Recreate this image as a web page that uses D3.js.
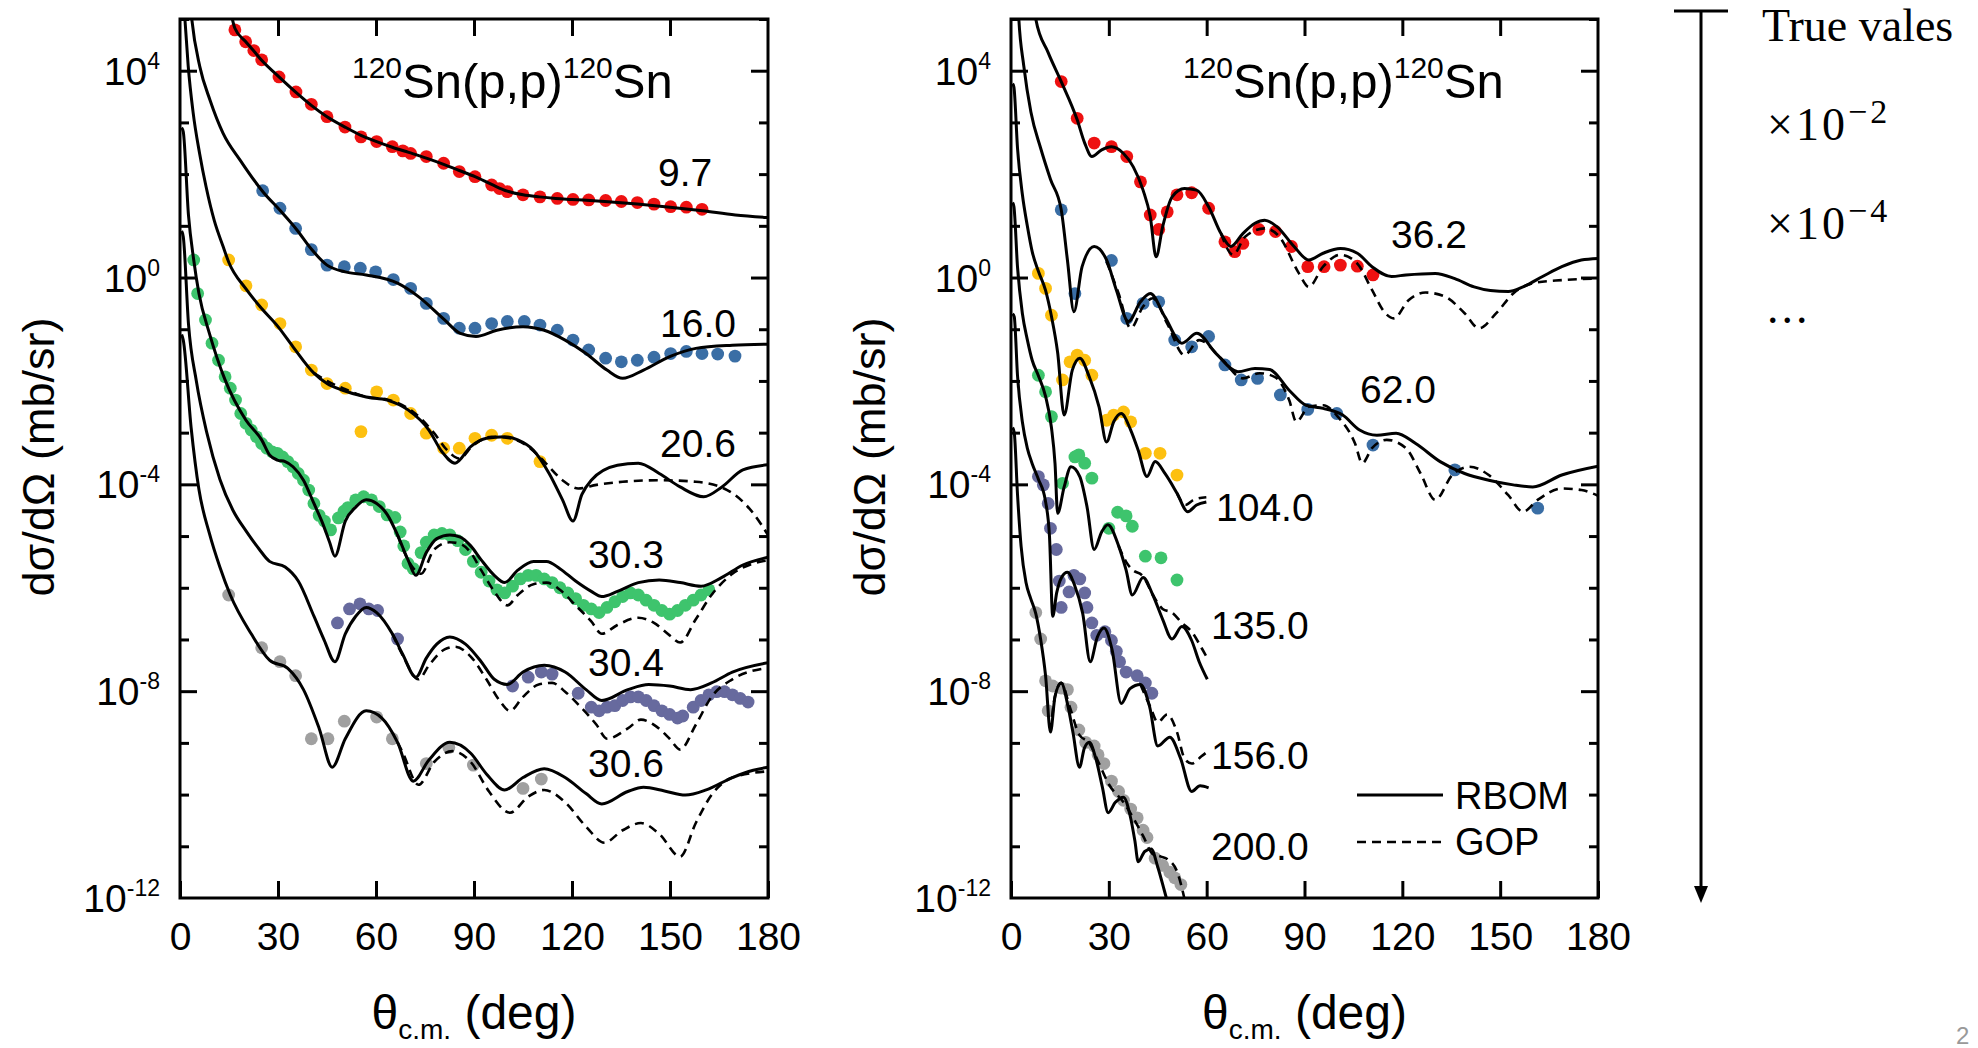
<!DOCTYPE html>
<html>
<head>
<meta charset="utf-8">
<script src="https://cdn.jsdelivr.net/npm/d3@7"></script>
<style>
  body { margin: 0; background: #fff; }
  svg { display: block; }
</style>
</head>
<body>
<svg id="chart" width="1978" height="1048"></svg>
<script>
// all cross sections below are stored as log10(dsigma/dOmega in mb/sr)
// each pair is [theta_cm (deg), log10 value]

const xTickValues = [0, 30, 60, 90, 120, 150, 180];
const yMajorTicks = [1e4, 1, 1e-4, 1e-8];
const yMinorTicks = [1e5, 1e3, 1e2, 1e1, 1e-1, 1e-2, 1e-3, 1e-5, 1e-6, 1e-7, 1e-9, 1e-10, 1e-11];
const yTickExponents = ["4", "0", "-4", "-8", "-12"];
const yLabelTicks = [1e4, 1, 1e-4, 1e-8, 1e-12];

const leftEnergies = ["9.7", "16.0", "20.6", "30.3", "30.4", "30.6"];
const rightEnergies = ["36.2", "62.0", "104.0", "135.0", "156.0", "200.0"];
const multipliers = ["True vales", "×10", "×10", "..."];

// ---------- left panel ----------
const rbom97 = [[15.5,5.15],[16.8,4.82],[20,4.57],[22.6,4.38],[25,4.2],[30.3,3.88],[35.5,3.58],[40.2,3.33],[45,3.11],[50.5,2.91],[55.4,2.75],[60.2,2.63],[65,2.52],[70,2.42],[75.4,2.31],[80.7,2.19],[85.5,2.07],[90.3,1.95],[95.4,1.8],[100.2,1.67],[105,1.6],[110,1.56],[115,1.53],[120,1.51],[130,1.47],[140,1.42],[150,1.36],[160,1.29],[170,1.21],[180,1.16]];
const pts97 = [[16.8,4.79],[20.1,4.56],[22.6,4.39],[25,4.21],[30.3,3.88],[35.5,3.59],[40.2,3.35],[45,3.11],[50.5,2.91],[55.4,2.72],[60.2,2.63],[65,2.53],[68.2,2.45],[70.6,2.4],[75.4,2.34],[80.7,2.21],[85.5,2.05],[90.3,1.95],[95.4,1.79],[97.8,1.72],[100.2,1.66],[105,1.6],[110.2,1.56],[115.5,1.53],[120.3,1.51],[125.1,1.5],[130.3,1.49],[135.1,1.47],[140,1.45],[145.1,1.42],[150.2,1.37],[155,1.36],[159.8,1.32]];

const rbom160 = [[3,5.4],[3.6,5.0],[6.1,4.07],[9.2,3.43],[13.2,2.79],[18.4,2.27],[25.5,1.65],[30.6,1.3],[35.8,0.92],[40.2,0.55],[45,0.24],[50.6,0.11],[57,0.05],[66.6,-0.11],[73,-0.37],[81,-0.82],[85.8,-1.08],[90.6,-1.14],[97,-1.02],[105,-0.95],[111.5,-1.02],[117.9,-1.21],[124.3,-1.47],[130.7,-1.79],[135.5,-1.95],[141.9,-1.79],[149.9,-1.53],[157.9,-1.37],[169.1,-1.31],[180,-1.29]];
const pts160 = [[25.3,1.68],[30.6,1.34],[35.4,0.95],[40.2,0.54],[45,0.24],[50.3,0.21],[55.2,0.18],[59.9,0.11],[65.3,-0.04],[70.6,-0.21],[75.4,-0.5],[80.7,-0.79],[85.5,-0.98],[90.3,-0.98],[95.4,-0.89],[100.2,-0.85],[105.4,-0.85],[110.2,-0.92],[115.5,-1.02],[120.3,-1.21],[125.1,-1.4],[130.3,-1.56],[135.1,-1.63],[140,-1.6],[145.1,-1.54],[150.2,-1.47],[155,-1.43],[159.8,-1.47],[164.6,-1.48],[169.9,-1.52]];

const rbom206 = [[0.9,5.6],[1.5,5.0],[2.5,4.1],[4,3.2],[6,2.4],[8,1.75],[10.5,1.1],[13.2,0.6],[14.9,0.3],[20.2,-0.22],[25,-0.6],[30,-0.95],[34.6,-1.34],[41,-1.85],[45,-2.05],[49.8,-2.18],[57,-2.31],[63.4,-2.37],[69.8,-2.56],[76.2,-2.95],[80.2,-3.37],[84.2,-3.59],[89,-3.27],[93.8,-3.11],[99.4,-3.08],[103.4,-3.14],[108.2,-3.34],[113,-3.79],[117.1,-4.3],[120.3,-4.71],[123,-4.2],[125.9,-3.92],[133.9,-3.63],[140.3,-3.59],[146.7,-3.79],[153.1,-4.05],[160.3,-4.24],[165.9,-4.05],[172.3,-3.72],[180,-3.62]];
const gop206 = [[41,-1.85],[45,-2.0],[49.8,-2.14],[57,-2.31],[63.4,-2.36],[71.4,-2.6],[77.8,-3.01],[81.8,-3.34],[85.5,-3.5],[89.8,-3.24],[95.4,-3.08],[101,-3.11],[106.6,-3.27],[111.5,-3.56],[117.1,-3.92],[121.9,-4.08],[127.5,-4.01],[135.5,-3.95],[146.7,-3.92],[157.9,-3.95],[167.5,-4.11],[175.5,-4.56],[180,-4.98]];
const pts206 = [[14.9,0.34],[20.2,-0.16],[25,-0.53],[30.6,-0.89],[35.4,-1.34],[40.2,-1.79],[45,-2.05],[50.6,-2.14],[55.4,-2.98],[60.2,-2.21],[65.3,-2.37],[70.6,-2.63],[75.4,-3.01],[80.7,-3.3],[85.5,-3.3],[90.3,-3.11],[95.4,-3.05],[100.2,-3.11],[110.2,-3.56]];

const rbom303 = [[0.5,2.9],[1,2.82],[2.6,1.2],[4.2,0.34],[5.8,-0.31],[9,-1.08],[13.8,-1.98],[20.2,-2.76],[25,-3.14],[27.4,-3.43],[29.8,-3.53],[32.2,-3.56],[34.6,-3.66],[37.8,-3.92],[41,-4.37],[43.4,-4.71],[45.8,-5.12],[47.4,-5.39],[50.6,-4.71],[53.8,-4.44],[57,-4.3],[60.2,-4.37],[63.4,-4.58],[66.6,-4.98],[69.8,-5.46],[72.2,-5.76],[75.4,-5.32],[78.6,-5.05],[82.6,-4.98],[85.8,-5.02],[89,-5.19],[92.2,-5.46],[96.2,-5.76],[99.4,-5.9],[103.4,-5.66],[108.2,-5.49],[112.2,-5.49],[116.3,-5.63],[121.1,-5.87],[125.9,-6.07],[129.1,-6.17],[133.9,-6.07],[140.3,-5.9],[146.7,-5.85],[153.1,-5.9],[159.5,-5.97],[165.9,-5.8],[172.3,-5.56],[180,-5.41]];
const gop303 = [[66.6,-4.98],[69.8,-5.46],[73.8,-5.73],[77.8,-5.26],[82.6,-5.12],[85.8,-5.15],[89,-5.32],[92.2,-5.66],[96.2,-6.07],[100.2,-6.34],[103.4,-6.14],[108.2,-5.93],[112.2,-5.9],[116.3,-6.04],[121.1,-6.34],[125.9,-6.65],[129.1,-6.89],[133.9,-6.72],[140.3,-6.58],[145.1,-6.68],[149.9,-6.92],[153.1,-7.06],[157.9,-6.61],[162.7,-6.14],[169.1,-5.73],[175.5,-5.53],[180,-5.47]];
const pts303 = [[4.2,0.34],[5.4,-0.31],[7.8,-0.82],[9.8,-1.27],[11.8,-1.6],[13.8,-1.92],[15.4,-2.14],[17,-2.37],[18.6,-2.63],[20.2,-2.82],[21.8,-2.95],[23.4,-3.08],[25,-3.21],[26.6,-3.3],[28.2,-3.37],[29.8,-3.4],[31.4,-3.47],[33,-3.56],[34.6,-3.66],[36.2,-3.79],[37.8,-3.92],[39.4,-4.11],[41,-4.37],[42.6,-4.6],[44.2,-4.71],[46.1,-4.88],[48.5,-4.65],[50.2,-4.52],[51.4,-4.45],[53.8,-4.3],[56.2,-4.24],[58.6,-4.3],[61,-4.43],[63.4,-4.59],[65.8,-4.64],[67.4,-4.92],[68.5,-5.19],[69.8,-5.53],[71.4,-5.63],[73.8,-5.32],[75.4,-5.12],[77.8,-4.98],[80.2,-4.95],[82.6,-4.98],[85,-5.09],[87.4,-5.26],[89.8,-5.49],[92.2,-5.7],[94.6,-5.87],[97,-6.04],[99.4,-6.1],[101.8,-5.97],[104.2,-5.83],[106.6,-5.76],[109,-5.76],[111.5,-5.83],[113.9,-5.9],[116.3,-6],[118.7,-6.1],[121.1,-6.21],[123.5,-6.34],[125.9,-6.41],[128.3,-6.48],[130.7,-6.38],[133.1,-6.27],[135.5,-6.17],[137.9,-6.1],[140.3,-6.14],[142.7,-6.24],[145.1,-6.34],[147.5,-6.44],[149.9,-6.51],[152.3,-6.44],[154.7,-6.34],[157.1,-6.24],[159.5,-6.14],[161.9,-6.04]];

const rbom304 = [[0.5,0.9],[1,0.79],[2.6,-0.9],[5,-2.0],[8.2,-3.0],[12.2,-3.9],[16.2,-4.5],[20.2,-4.9],[24.2,-5.25],[27.4,-5.49],[32.2,-5.6],[36.2,-5.87],[41,-6.55],[44.2,-7.02],[47.4,-7.43],[50.6,-6.89],[53.8,-6.55],[57,-6.38],[60.2,-6.48],[65,-6.89],[68.2,-7.29],[72.2,-7.73],[75.4,-7.36],[78.6,-7.09],[82.6,-6.95],[87.4,-7.09],[92.2,-7.43],[96.2,-7.77],[100.2,-7.87],[105,-7.63],[111.5,-7.5],[117.9,-7.63],[124.3,-7.97],[129.1,-8.18],[137.1,-7.97],[143.5,-7.87],[149.9,-7.9],[156.3,-7.97],[162.7,-7.84],[169.1,-7.63],[180,-7.45]];
const gop304 = [[65,-6.89],[68.2,-7.31],[73,-7.77],[76.2,-7.5],[81,-7.19],[84.2,-7.14],[89,-7.33],[93.8,-7.77],[97.8,-8.18],[101,-8.38],[105,-8.11],[109.8,-7.87],[113.9,-7.84],[117.9,-8.01],[122.7,-8.31],[127.5,-8.65],[130.7,-8.92],[137.1,-8.72],[141.1,-8.55],[145.1,-8.65],[149.9,-8.92],[153.1,-9.13],[157.9,-8.65],[162.7,-8.11],[169.1,-7.77],[180,-7.55]];
const pts304 = [[48.2,-6.68],[51.9,-6.41],[55.1,-6.31],[57.8,-6.41],[60.5,-6.44],[66.6,-6.99],[101.8,-7.9],[106.6,-7.73],[110.6,-7.63],[113.9,-7.67],[121.9,-8.04],[125.9,-8.31],[128.3,-8.38],[130.7,-8.31],[133.1,-8.28],[135.5,-8.18],[137.9,-8.11],[140.3,-8.11],[142.7,-8.18],[145.1,-8.28],[147.5,-8.38],[149.9,-8.45],[152.3,-8.52],[153.9,-8.48],[157.1,-8.31],[159.5,-8.18],[161.9,-8.07],[164.3,-8.01],[166.7,-8.01],[169.1,-8.07],[171.5,-8.14],[173.9,-8.21]];

const rbom306 = [[0.5,-1.1],[1,-1.21],[3.4,-2.9],[5.8,-4.1],[9,-4.95],[12.2,-5.6],[15.4,-6.14],[21.8,-6.89],[27.4,-7.4],[33,-7.56],[37.8,-7.97],[42.6,-8.72],[46.6,-9.47],[50.6,-8.92],[57,-8.38],[61.8,-8.52],[66.6,-8.99],[71.4,-9.74],[76.2,-9.33],[82.6,-8.99],[89,-9.2],[93.8,-9.6],[99.4,-9.91],[105,-9.67],[111.5,-9.5],[117.9,-9.67],[124.3,-9.98],[129.1,-10.18],[137.1,-9.94],[141.9,-9.86],[148.3,-9.93],[154.7,-10.01],[161.1,-9.91],[169.1,-9.67],[175.5,-9.53],[180,-9.47]];
const gop306 = [[66.6,-8.99],[68.2,-9.19],[73,-9.81],[77.8,-9.37],[83.4,-9.16],[89,-9.37],[94.6,-9.94],[101,-10.35],[106.6,-10.04],[111.5,-9.91],[117.9,-10.15],[124.3,-10.62],[129.9,-10.93],[135.5,-10.69],[141.1,-10.55],[146.7,-10.76],[153.1,-11.2],[157.9,-10.55],[162.7,-10.01],[169.1,-9.67],[180,-9.55]];
const pts306 = [[14.9,-6.14],[25,-7.16],[30.6,-7.43],[35.4,-7.7],[40.2,-8.92],[45.3,-8.92],[50.3,-8.58],[60.2,-8.5],[65,-8.92],[75.4,-9.4],[82.3,-9.09],[89.8,-9.43],[105,-9.88],[110.6,-9.7]];

// ---------- right panel ----------
const rbom362 = [[7,5.3],[7.6,5.0],[11.4,4.35],[15.4,3.79],[20.3,3.05],[22.6,2.6],[24.8,2.34],[27.8,2.47],[30.8,2.53],[34.5,2.4],[37.5,2.14],[40.5,1.69],[42.7,1.18],[44.5,0.4],[46.5,0.98],[49.4,1.56],[53.2,1.72],[56.9,1.69],[60.6,1.37],[64.4,0.85],[67.4,0.6],[71.1,0.85],[74.8,1.05],[77.8,1.11],[81.6,0.98],[86.8,0.6],[91.3,0.34],[95.7,0.47],[101,0.56],[106.2,0.47],[110.7,0.21],[116.7,0.02],[121.1,0.05],[130.1,0.08],[136.1,-0.02],[142,-0.18],[147,-0.25],[152.5,-0.27],[157,-0.18],[163,0.02],[168.9,0.21],[174.9,0.34],[180,0.37]];
const gop362 = [[64.4,0.85],[68.1,0.44],[71.8,0.79],[77.8,0.95],[82.3,0.79],[88.3,0.08],[91.3,-0.18],[95.7,0.21],[101,0.44],[106.2,0.27],[110.7,-0.24],[114.4,-0.66],[117.4,-0.79],[121.9,-0.44],[127.1,-0.29],[133.1,-0.37],[139.1,-0.69],[143.5,-0.98],[148.8,-0.69],[154,-0.31],[160,-0.11],[168.9,-0.05],[180,-0.02]];
const pts362 = [[15.4,3.79],[20.3,3.08],[25.5,2.6],[30.8,2.53],[35.5,2.34],[39.7,1.85],[42.7,1.21],[45.3,0.93],[47.9,1.27],[50.9,1.6],[55.4,1.64],[60.6,1.34],[65.6,0.69],[68.6,0.5],[71.1,0.66],[76,0.93],[81.1,0.89],[86,0.6],[91,0.21],[96,0.21],[101,0.24],[106.2,0.22],[111,0.05]];

const rbom620 = [[2,5.5],[2.4,5.0],[3.9,4.1],[6.1,3.2],[9.1,2.5],[12.1,1.9],[15.4,1.31],[17.3,0.34],[19.3,-0.66],[21.8,0.21],[25.5,0.6],[29.3,0.34],[32.3,-0.24],[36,-0.85],[39.7,-0.47],[42.7,-0.31],[47.2,-0.76],[52.4,-1.27],[57,-1.08],[62.9,-1.47],[69.6,-1.82],[74.8,-1.76],[79.3,-1.78],[85.3,-2.18],[90.5,-2.47],[95.7,-2.53],[101.7,-2.66],[106.9,-2.95],[112.2,-3.05],[118.1,-3.01],[124.1,-3.21],[131.6,-3.56],[139.1,-3.79],[146.5,-3.92],[154,-4.01],[160,-4.05],[168.9,-3.82],[180,-3.65]];
const gop620 = [[29.3,0.31],[33,-0.31],[36.7,-0.98],[40.5,-0.56],[43.5,-0.4],[47.9,-0.89],[53.2,-1.5],[57.7,-1.21],[64.4,-1.56],[71.1,-1.95],[76.3,-1.85],[80.8,-1.92],[85.3,-2.37],[87.5,-2.79],[91.3,-2.5],[95.7,-2.47],[100.2,-2.69],[105.5,-3.21],[107.7,-3.59],[110.7,-3.3],[115.2,-3.14],[121.1,-3.3],[125.6,-3.79],[130.1,-4.3],[135.3,-3.82],[140.6,-3.66],[146.5,-3.82],[152.5,-4.21],[157,-4.53],[161.5,-4.3],[168.9,-4.08],[174.9,-4.11],[180,-4.22]];
const pts620 = [[15.4,1.31],[19.6,-0.31],[30.8,0.33],[35.5,-0.79],[40.5,-0.5],[45.3,-0.47],[50.2,-1.21],[55.4,-1.34],[60.6,-1.14],[65.6,-1.69],[70.6,-1.98],[75.6,-1.95],[82.6,-2.27],[91,-2.55],[99.9,-2.63],[111,-3.24],[136.1,-3.72],[161.5,-4.46]];

const rbom1040 = [[0.5,3.75],[0.9,3.68],[2,2.5],[3.5,1.6],[5,1.0],[6.5,0.5],[8.4,0.12],[10.6,-0.25],[12.4,-0.75],[14.3,-1.45],[16.3,-2.66],[18.8,-1.79],[21.1,-1.56],[24,-1.92],[27,-2.5],[29.3,-3.18],[31.5,-2.79],[33.8,-2.63],[36.7,-2.95],[39,-3.34],[41.7,-3.85],[44.2,-3.56],[47.2,-3.79],[50.9,-4.17],[54.2,-4.53],[56.9,-4.4],[59.9,-4.34]];
const gop1040 = [[50.9,-4.17],[53.5,-4.4],[56,-4.3],[59.9,-4.25]];
const pts1040 = [[8.4,0.08],[10.6,-0.21],[12.4,-0.73],[15.8,-1.98],[18.1,-1.63],[20.3,-1.5],[22.6,-1.6],[24.8,-1.89],[29.3,-2.76],[31.5,-2.66],[34.5,-2.6],[36.7,-2.79],[41.2,-3.4],[45.7,-3.4],[50.9,-3.82]];

const rbom1350 = [[0.5,1.45],[0.9,1.37],[2,0.2],[3.5,-0.7],[5,-1.2],[6.5,-1.6],[8.4,-1.9],[10.6,-2.3],[12.4,-2.9],[13.5,-3.6],[14.3,-4.56],[16.3,-4.05],[18.4,-3.66],[21.1,-3.85],[23.3,-4.43],[25.5,-5.26],[27.8,-4.92],[29.7,-4.78],[33,-5.19],[35.3,-5.66],[37.2,-6.14],[40.5,-5.8],[43.5,-6.14],[46.5,-6.61],[49.4,-6.99],[52.4,-6.75],[55.4,-7.02],[57.7,-7.43],[60.2,-7.77]];
const gop1350 = [[33,-5.19],[35.3,-5.5],[37.2,-5.65],[40.5,-5.78],[43.5,-6.14],[46.5,-6.41],[49.4,-6.48],[52.4,-6.68],[55.4,-6.85],[58.4,-7.16],[60.2,-7.36]];
const pts1350 = [[8.4,-1.89],[10.6,-2.21],[12.4,-2.69],[15.8,-3.98],[19.6,-3.47],[20.8,-3.43],[22.6,-3.59],[24.8,-3.88],[30,-4.85],[32.7,-4.54],[35.3,-4.61],[37.2,-4.81],[41.2,-5.39],[46,-5.42],[50.9,-5.85]];

const rbom1560 = [[0.5,-0.7],[1,-0.76],[2,-1.9],[3.5,-2.8],[5,-3.3],[6.5,-3.6],[8.4,-3.9],[10.5,-4.3],[11.8,-5.0],[12.8,-6.55],[14,-6.1],[15.5,-5.8],[17.3,-5.7],[19.5,-5.95],[22,-6.5],[24.3,-7.43],[26.5,-6.95],[28.5,-6.78],[31,-7.2],[33.8,-8.24],[36.5,-7.95],[39.7,-7.87],[42.5,-8.3],[45,-9.06],[48.7,-8.89],[52,-9.3],[55.4,-9.94],[58,-9.83],[60.6,-9.87]];
const gop1560 = [[39.7,-7.87],[42.7,-8.3],[45,-8.6],[47.9,-8.45],[50.9,-8.79],[53.2,-9.3],[55.4,-9.4],[58.4,-9.26],[60.6,-9.15]];
const pts1560 = [[8.4,-3.85],[9.9,-4.01],[11.4,-4.37],[12.1,-4.85],[13.9,-5.26],[14.8,-5.87],[15.4,-6.38],[17.8,-6.08],[19.3,-5.76],[21.1,-5.83],[22.6,-6.1],[23.3,-6.38],[24.8,-6.68],[26.3,-6.92],[28.8,-6.85],[30.8,-7.02],[32.3,-7.23],[33.3,-7.43],[35.3,-7.63],[38.7,-7.7],[41.2,-7.84],[43.2,-8.04]];

const rbom2000 = [[0.5,-2.9],[1,-3.0],[2,-4.2],[3.1,-5.2],[4.6,-5.9],[6,-6.2],[7.6,-6.5],[9.1,-7.0],[10.6,-7.7],[12.1,-8.79],[13.5,-8.1],[15.4,-7.84],[17.5,-8.3],[19,-8.8],[21,-9.47],[22.5,-9.1],[24,-8.99],[26,-9.3],[28,-9.85],[29.8,-10.35],[32,-10.15],[34.5,-10.05],[36.5,-10.4],[38,-10.9],[39,-11.3],[41,-11.1],[43,-11.05],[45,-11.4],[47,-11.85],[48.5,-12.2]];
const gop2000 = [[12.1,-8.79],[13.5,-8.1],[15.4,-7.84],[18,-8.3],[21,-8.85],[24,-9.0],[27,-9.4],[30,-9.8],[34.5,-10.15],[37.5,-10.45],[40.5,-10.8],[43.5,-11.15],[46,-11.2],[48,-11.25],[51,-11.5],[53.5,-12.1]];
const pts2000 = [[7.6,-6.48],[9.1,-6.99],[10.6,-7.8],[11.4,-8.38],[12.8,-7.9],[15.4,-7.94],[17.3,-7.97],[18.4,-8.31],[20.8,-8.75],[22.9,-8.99],[25.5,-9.06],[26.7,-9.23],[28.5,-9.4],[30.8,-9.74],[33,-9.94],[34.5,-10.11],[36.7,-10.28],[38.7,-10.45],[40.5,-10.69],[41.7,-10.83],[44.2,-11.23],[46.5,-11.37],[48.7,-11.5],[50.2,-11.61],[52.1,-11.74]];

const colors = {
  red: "#ee1111", blue: "#3a6ea5", yellow: "#fdc010",
  green: "#3ec46d", purple: "#676a9e", gray: "#a0a0a0"
};

const FONT = "Arial, 'Liberation Sans', sans-serif";
const SERIF = "'Liberation Serif', 'Times New Roman', serif";

const svg = d3.select("#chart");
const yTop = 19, yBottom = 898;

const y = d3.scaleLog().domain([1e-12, 1e5]).range([yBottom, yTop]);

/*one entry per panel; label positions are layout only*/
const panels = [
  {
    x0: 180, x1: 768,
    series: [
      { rbom: rbom97, gop: null, pts: pts97, color: colors.red, name: leftEnergies[0], lx: 658, ly: 186 },
      { rbom: rbom160, gop: null, pts: pts160, color: colors.blue, name: leftEnergies[1], lx: 660, ly: 337 },
      { rbom: rbom206, gop: gop206, pts: pts206, color: colors.yellow, name: leftEnergies[2], lx: 660, ly: 457 },
      { rbom: rbom303, gop: gop303, pts: pts303, color: colors.green, name: leftEnergies[3], lx: 588, ly: 568 },
      { rbom: rbom304, gop: gop304, pts: pts304, color: colors.purple, name: leftEnergies[4], lx: 588, ly: 676 },
      { rbom: rbom306, gop: gop306, pts: pts306, color: colors.gray, name: leftEnergies[5], lx: 588, ly: 777 }
    ]
  },
  {
    x0: 1011, x1: 1598,
    series: [
      { rbom: rbom362, gop: gop362, pts: pts362, color: colors.red, name: rightEnergies[0], lx: 1391, ly: 248 },
      { rbom: rbom620, gop: gop620, pts: pts620, color: colors.blue, name: rightEnergies[1], lx: 1360, ly: 403 },
      { rbom: rbom1040, gop: gop1040, pts: pts1040, color: colors.yellow, name: rightEnergies[2], lx: 1216, ly: 521 },
      { rbom: rbom1350, gop: gop1350, pts: pts1350, color: colors.green, name: rightEnergies[3], lx: 1211, ly: 639 },
      { rbom: rbom1560, gop: gop1560, pts: pts1560, color: colors.purple, name: rightEnergies[4], lx: 1211, ly: 769 },
      { rbom: rbom2000, gop: gop2000, pts: pts2000, color: colors.gray, name: rightEnergies[5], lx: 1211, ly: 860 }
    ],
    legend: true
  }
];

panels.forEach((p, pi) => {
  const x = d3.scaleLinear().domain([0, 180]).range([p.x0, p.x1]);
  const g = svg.append("g");

  svg.append("clipPath").attr("id", "clip" + pi)
    .append("rect")
    .attr("x", p.x0).attr("y", yTop)
    .attr("width", p.x1 - p.x0).attr("height", yBottom - yTop);

  const plot = g.append("g").attr("clip-path", `url(#clip${pi})`);

  const line = d3.line()
    .x(d => x(d[0]))
    .y(d => y(Math.pow(10, d[1])))
    .curve(d3.curveMonotoneX);

  /*data points go under the curves*/
  p.series.forEach(s => {
    plot.append("g")
      .selectAll("circle")
      .data(s.pts)
      .enter()
      .append("circle")
      .attr("cx", d => x(d[0]))
      .attr("cy", d => y(Math.pow(10, d[1])))
      .attr("r", 6.4)
      .attr("fill", s.color);
  });

  p.series.forEach(s => {
    if (s.gop) {
      plot.append("path")
        .datum(s.gop)
        .attr("d", line)
        .attr("fill", "none")
        .attr("stroke", "#000")
        .attr("stroke-width", 2.6)
        .attr("stroke-dasharray", "9,6");
    }
    plot.append("path")
      .datum(s.rbom)
      .attr("d", line)
      .attr("fill", "none")
      .attr("stroke", "#000")
      .attr("stroke-width", 3)
      .attr("stroke-linejoin", "round");
  });

  /*energy labels*/
  p.series.forEach(s => {
    g.append("text")
      .attr("x", s.lx).attr("y", s.ly)
      .attr("font-family", FONT).attr("font-size", 39)
      .text(s.name);
  });

  /*axes with inward ticks*/
  const styleAxis = sel => {
    sel.select(".domain").remove();
    sel.selectAll("line").attr("stroke", "#000").attr("stroke-width", 3);
    sel.attr("font-family", FONT).attr("font-size", 39);
    sel.selectAll("text").attr("fill", "#000");
  };

  g.append("g")
    .attr("transform", `translate(0,${yBottom})`)
    .call(d3.axisBottom(x).tickValues(xTickValues).tickSize(-17).tickPadding(24).tickFormat(d3.format("d")))
    .call(styleAxis);

  g.append("g")
    .attr("transform", `translate(0,${yTop})`)
    .call(d3.axisTop(x).tickValues(xTickValues.slice(1, -1)).tickSize(-17).tickFormat(""))
    .call(styleAxis);

  [[d3.axisLeft, p.x0], [d3.axisRight, p.x1]].forEach(([axis, pos]) => {
    g.append("g")
      .attr("transform", `translate(${pos},0)`)
      .call(axis(y).tickValues(yMajorTicks).tickSize(-17).tickFormat(""))
      .call(styleAxis);
    g.append("g")
      .attr("transform", `translate(${pos},0)`)
      .call(axis(y).tickValues(yMinorTicks).tickSize(-9).tickFormat(""))
      .call(styleAxis);
  });

  /*tick labels as 10 with a raised exponent*/
  yLabelTicks.forEach((v, i) => {
    const t = g.append("text")
      .attr("x", p.x0 - 20)
      .attr("y", y(v) + 14)
      .attr("text-anchor", "end")
      .attr("font-family", FONT)
      .attr("font-size", 39)
      .text("10");
    t.append("tspan").attr("dy", -16).attr("font-size", 23).text(yTickExponents[i]);
  });

  g.append("rect")
    .attr("x", p.x0).attr("y", yTop)
    .attr("width", p.x1 - p.x0).attr("height", yBottom - yTop)
    .attr("fill", "none").attr("stroke", "#000").attr("stroke-width", 3);

  /*reaction title*/
  const title = g.append("text")
    .attr("x", p.x0 + 172).attr("y", 98)
    .attr("font-family", FONT).attr("font-size", 49);
  title.append("tspan").attr("font-size", 30).attr("dy", -20).text("120");
  title.append("tspan").attr("dy", 20).text("Sn(p,p)");
  title.append("tspan").attr("font-size", 30).attr("dy", -20).text("120");
  title.append("tspan").attr("dy", 20).text("Sn");

  /*axis titles*/
  g.append("text")
    .attr("transform", `translate(${p.x0 - 126},457) rotate(-90)`)
    .attr("text-anchor", "middle")
    .attr("font-family", FONT).attr("font-size", 45)
    .text("dσ/dΩ (mb/sr)");

  const xl = g.append("text")
    .attr("x", (p.x0 + p.x1) / 2).attr("y", 1029)
    .attr("text-anchor", "middle")
    .attr("font-family", FONT).attr("font-size", 48);
  xl.append("tspan").text("θ");
  xl.append("tspan").attr("font-size", 28).attr("dy", 10).text("c.m.");
  xl.append("tspan").attr("dy", -10).text(" (deg)");

  if (p.legend) {
    const lg = g.append("g");
    lg.append("line").attr("x1", 1357).attr("x2", 1443).attr("y1", 795).attr("y2", 795)
      .attr("stroke", "#000").attr("stroke-width", 3);
    lg.append("line").attr("x1", 1357).attr("x2", 1443).attr("y1", 842).attr("y2", 842)
      .attr("stroke", "#000").attr("stroke-width", 2.6).attr("stroke-dasharray", "9,6");
    lg.append("text").attr("x", 1455).attr("y", 809)
      .attr("font-family", FONT).attr("font-size", 38).text("RBOM");
    lg.append("text").attr("x", 1455).attr("y", 855)
      .attr("font-family", FONT).attr("font-size", 38).text("GOP");
  }
});

/*scaling arrow on the right*/
const ann = svg.append("g");
ann.append("line").attr("x1", 1674).attr("x2", 1728).attr("y1", 11).attr("y2", 11)
  .attr("stroke", "#000").attr("stroke-width", 3);
ann.append("line").attr("x1", 1701).attr("x2", 1701).attr("y1", 11).attr("y2", 890)
  .attr("stroke", "#000").attr("stroke-width", 3);
ann.append("path").attr("d", "M1694,886 L1708,886 L1701,903 Z").attr("fill", "#000");

ann.append("text").attr("x", 1762).attr("y", 41)
  .attr("font-family", SERIF).attr("font-size", 46).text(multipliers[0]);
[["−2", 140], ["−4", 239]].forEach(([e, yy], i) => {
  const t = ann.append("text").attr("x", 1767).attr("y", yy)
    .attr("font-family", SERIF).attr("font-size", 46).attr("letter-spacing", 3)
    .text(multipliers[i + 1]);
  t.append("tspan").attr("dy", -17).attr("font-size", 34).text(e);
});
ann.append("text").attr("x", 1767).attr("y", 323)
  .attr("font-family", SERIF).attr("font-size", 46).attr("letter-spacing", 3).text(multipliers[3]);

svg.append("text").attr("x", 1956).attr("y", 1044)
  .attr("font-family", FONT).attr("font-size", 24).attr("fill", "#999").text("2");
</script>
</body>
</html>
